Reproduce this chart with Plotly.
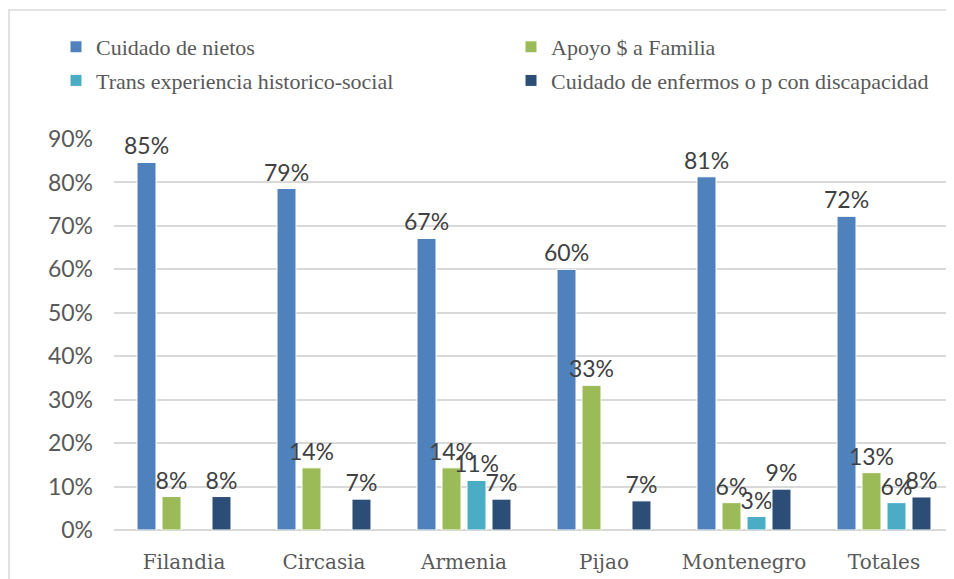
import plotly.graph_objects as go

# Datos
municipios = ["Filandia", "Circasia", "Armenia", "Pijao", "Montenegro", "Totales"]
cuidado_nietos = [0.846, 0.786, 0.671, 0.600, 0.813, 0.722]
apoyo_familia = [0.077, 0.143, 0.143, 0.333, 0.063, 0.132]
trans_experiencia = [None, None, 0.114, None, 0.031, 0.063]
cuidado_enfermos = [0.077, 0.071, 0.071, 0.067, 0.094, 0.076]
ticks = [0, 0.1, 0.2, 0.3, 0.4, 0.5, 0.6, 0.7, 0.8, 0.9]

series = [
    ("Cuidado de nietos", cuidado_nietos, "#4f81bd", "legend"),
    ("Apoyo $ a Familia", apoyo_familia, "#9bbb59", "legend2"),
    ("Trans experiencia historico-social", trans_experiencia, "#4bacc6", "legend"),
    ("Cuidado de enfermos o p con discapacidad", cuidado_enfermos, "#2c4d75", "legend2"),
]

fig = go.Figure()
for i, (nombre, valores, color, leg) in enumerate(series):
    fig.add_trace(go.Bar(
        name=nombre, x=municipios, y=valores,
        marker=dict(color=color, line=dict(color="white", width=1)),
        texttemplate="%{y:.0%}", textposition="outside",
        textfont=dict(family="Lato", size=23, color="#404040"),
        constraintext="none", cliponaxis=False,
        legend=leg, legendgroup=str(i),
    ))

# la página deja 8px de margen alrededor de la figura
W, H = 946, 571
L, R, T, B = 106, 0, 131, 49
pw = W - L - R
ph = H - T - B

def px_x(x):
    return (x - L) / pw

def px_y(y):
    return (H - B - y) / ph

# Borde del gráfico
fig.add_shape(type="rect", xref="paper", yref="paper",
              x0=px_x(1), x1=px_x(W + 20), y0=px_y(H + 20), y1=px_y(2),
              line=dict(color="#d9d9d9", width=1.5), layer="below")

legend_style = dict(
    orientation="v", xanchor="left", yanchor="top",
    font=dict(family="Liberation Serif", size=22, color="#595959"),
    tracegroupgap=2, bgcolor="rgba(0,0,0,0)", itemwidth=30,
)

fig.update_layout(
    width=W, height=H,
    margin=dict(l=L, r=R, t=T, b=B),
    paper_bgcolor="white", plot_bgcolor="white",
    barmode="group", bargap=0.286, bargroupgap=0.24,
    showlegend=True,
    legend=dict(x=px_x(48), y=px_y(18), **legend_style),
    legend2=dict(x=px_x(503), y=px_y(18), **legend_style),
    xaxis=dict(
        tickfont=dict(family="DejaVu Serif", size=20, color="#595959"),
        showline=False, ticks="", showgrid=False, automargin=False,
        ticklabelstandoff=18,
    ),
    yaxis=dict(
        range=[0, 0.9], tickvals=ticks, tickformat=".0%",
        tickfont=dict(family="Lato", size=23, color="#595959"),
        showgrid=True, gridcolor="#d9d9d9", gridwidth=1.5,
        zeroline=True, zerolinecolor="#d9d9d9", zerolinewidth=1.5,
        ticks="", ticklabelstandoff=20, automargin=False,
    ),
)

fig.write_html("out.html")
